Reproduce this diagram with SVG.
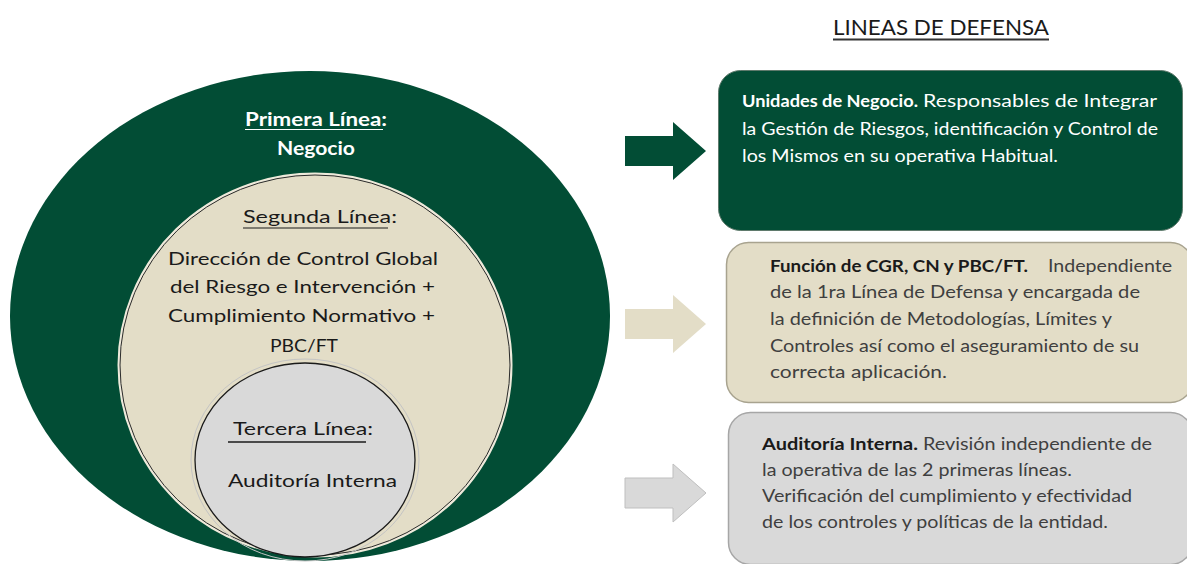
<svg xmlns="http://www.w3.org/2000/svg" width="1187" height="564" viewBox="0 0 1187 564">
<style>
text{font-family:Lato,"Liberation Sans",sans-serif;}
.w{fill:#ffffff;font-weight:bold;font-size:18px;}
.k{fill:#1a1a1a;font-size:18px;}
.bw{fill:#ffffff;font-weight:bold;font-size:17px;}
.rw{fill:#ffffff;font-size:17px;}
.bk{fill:#1a1a1a;font-weight:bold;font-size:17px;}
.rk{fill:#3f3f3f;font-size:17px;}
</style>
<defs>
<path id="arrow" d="M0,0 H48 V-14 L81,15 L48,44 V30 H0 Z"/>
</defs>
<rect width="1187" height="564" fill="#ffffff"/>

<g id="heading">
<text x="833" y="35" font-size="21" fill="#1a1a1a" textLength="216" lengthAdjust="spacingAndGlyphs">LINEAS DE DEFENSA</text>
<line x1="833" y1="39.5" x2="1049" y2="39.5" stroke="#333" stroke-width="2"/>
</g>

<g id="primera-linea">
<ellipse cx="310" cy="316" rx="300" ry="245" fill="#024d35"/>
<text class="w" x="245" y="126" textLength="142" lengthAdjust="spacingAndGlyphs">Primera Línea:</text>
<line x1="245" y1="129.5" x2="383" y2="129.5" stroke="#ffffff" stroke-width="1.2"/>
<text class="w" x="277" y="155" textLength="78" lengthAdjust="spacingAndGlyphs">Negocio</text>
</g>

<g id="segunda-linea">
<ellipse cx="315" cy="365" rx="196" ry="191" fill="none" stroke="#eeeadb" stroke-width="3"/>
<ellipse cx="315" cy="365" rx="195" ry="190" fill="#e3ddc7" stroke="#2b2b2b" stroke-width="1"/>
<text class="k" x="243" y="223" textLength="154" lengthAdjust="spacingAndGlyphs">Segunda Línea:</text>
<line x1="243" y1="228" x2="388" y2="228" stroke="#1a1a1a" stroke-width="1.2"/>
<text class="k" x="168" y="265" textLength="270" lengthAdjust="spacingAndGlyphs">Dirección de Control Global</text>
<text class="k" x="170" y="293" textLength="265" lengthAdjust="spacingAndGlyphs">del Riesgo e Intervención +</text>
<text class="k" x="168" y="322" textLength="267" lengthAdjust="spacingAndGlyphs">Cumplimiento Normativo +</text>
<text class="k" x="270" y="352" textLength="68" lengthAdjust="spacingAndGlyphs">PBC/FT</text>
</g>

<g id="tercera-linea">
<ellipse cx="305" cy="460" rx="114" ry="101" fill="none" stroke="#c4c4c4" stroke-width="1"/>
<ellipse cx="305" cy="460" rx="110" ry="97" fill="#d9d9d9" stroke="#1a1a1a" stroke-width="1.3"/>
<text class="k" x="233" y="435" textLength="140" lengthAdjust="spacingAndGlyphs">Tercera Línea:</text>
<line x1="228" y1="442" x2="366" y2="442" stroke="#1a1a1a" stroke-width="1.5"/>
<text class="k" x="228" y="487" textLength="169" lengthAdjust="spacingAndGlyphs">Auditoría Interna</text>
</g>

<g id="connectors">
<use href="#arrow" x="625" y="136" fill="#024d35"/>
<use href="#arrow" x="625" y="309" fill="#e3ddc7"/>
<use href="#arrow" x="625" y="478" fill="#d9d9d9" stroke="#bfbfbf" stroke-width="1"/>
</g>

<g id="box-negocio">
<rect x="718.5" y="70.5" width="464" height="160" rx="22" fill="#024d35" stroke="#5f7a6c" stroke-width="1"/>
<text class="bw" x="742" y="107" textLength="176" lengthAdjust="spacingAndGlyphs">Unidades de Negocio.</text>
<text class="rw" x="923" y="107" textLength="234" lengthAdjust="spacingAndGlyphs">Responsables de Integrar</text>
<text class="rw" x="742" y="135" textLength="416" lengthAdjust="spacingAndGlyphs">la Gestión de Riesgos, identificación y Control de</text>
<text class="rw" x="742" y="162" textLength="316" lengthAdjust="spacingAndGlyphs">los Mismos en su operativa Habitual.</text>
</g>

<g id="box-cgr">
<rect x="726.5" y="242.5" width="466" height="160" rx="22" fill="#e3ddc7" stroke="#a8a38f" stroke-width="1.5"/>
<text class="bk" x="770" y="272" textLength="258" lengthAdjust="spacingAndGlyphs">Función de CGR, CN y PBC/FT.</text>
<text class="rk" x="1048" y="272" textLength="124" lengthAdjust="spacingAndGlyphs">Independiente</text>
<text class="rk" x="770" y="298" textLength="370" lengthAdjust="spacingAndGlyphs">de la 1ra Línea de Defensa y encargada de</text>
<text class="rk" x="770" y="325" textLength="342" lengthAdjust="spacingAndGlyphs">la definición de Metodologías, Límites y</text>
<text class="rk" x="770" y="352" textLength="369" lengthAdjust="spacingAndGlyphs">Controles así como el aseguramiento de su</text>
<text class="rk" x="770" y="378" textLength="177" lengthAdjust="spacingAndGlyphs">correcta aplicación.</text>
</g>

<g id="box-auditoria">
<rect x="728.5" y="412.5" width="464" height="152" rx="22" fill="#d9d9d9" stroke="#a6a6a6" stroke-width="1.5"/>
<text class="bk" x="762" y="450" textLength="156" lengthAdjust="spacingAndGlyphs">Auditoría Interna.</text>
<text class="rk" x="923" y="450" textLength="229" lengthAdjust="spacingAndGlyphs">Revisión independiente de</text>
<text class="rk" x="762" y="476" textLength="310" lengthAdjust="spacingAndGlyphs">la operativa de las 2 primeras líneas.</text>
<text class="rk" x="762" y="502" textLength="370" lengthAdjust="spacingAndGlyphs">Verificación del cumplimiento y efectividad</text>
<text class="rk" x="762" y="528" textLength="346" lengthAdjust="spacingAndGlyphs">de los controles y políticas de la entidad.</text>
</g>
</svg>
